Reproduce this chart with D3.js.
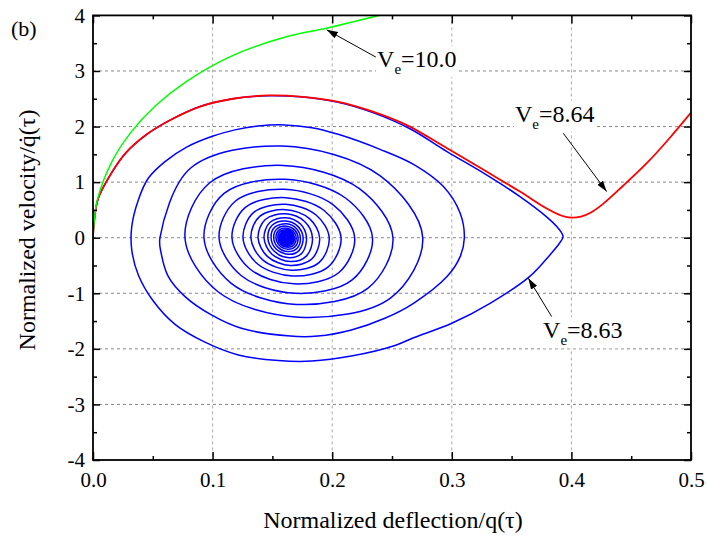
<!DOCTYPE html>
<html><head><meta charset="utf-8">
<script src="https://cdn.jsdelivr.net/npm/d3@7"></script>
<style>
body{margin:0;background:#fff}
svg{display:block}
text{font-family:"Liberation Serif","Times New Roman",Times,serif;fill:#000}
</style>
</head><body>
<svg id="chart" width="708" height="541" font-family="Liberation Serif, Times New Roman, serif"></svg>
<script>
// ---------------- data ----------------
const xTicks = [0, 0.1, 0.2, 0.3, 0.4, 0.5];
const xTickLabels = ["0.0", "0.1", "0.2", "0.3", "0.4", "0.5"];
const yTicks = [-4, -3, -2, -1, 0, 1, 2, 3, 4];
const yTickLabels = ["-4", "-3", "-2", "-1", "0", "1", "2", "3", "4"];
const xMinor = [0.05, 0.15, 0.25, 0.35, 0.45];
const yMinor = [-3.5, -2.5, -1.5, -0.5, 0.5, 1.5, 2.5, 3.5];
const xGrid = [0.1, 0.2, 0.3, 0.4];
const yGrid = [-3, -2, -1, 0, 1, 2, 3];

// V_e = 10.0 (green)
const greenCurve = [[0,0],[0.001,0.3],[0.0036,0.68],[0.0156,1.36],[0.0315,1.89],[0.052,2.37],
  [0.078,2.81],[0.118,3.29],[0.164,3.63],[0.195,3.77],[0.239,4.0]];

// V_e = 8.64 (red)
const redCurve = [[0,0],[0.001,0.3],[0.0044,0.71],[0.0156,1.17],[0.0276,1.53],[0.045,1.86],
  [0.064,2.11],[0.0895,2.36],[0.117,2.50],[0.147,2.56],[0.173,2.54],[0.204,2.45],[0.234,2.27],
  [0.262,2.03],[0.296,1.61],[0.329,1.19],[0.357,0.83],[0.379,0.53],[0.392,0.395],[0.400,0.36],
  [0.408,0.38],[0.416,0.45],[0.426,0.60],[0.443,0.93],[0.463,1.34],[0.482,1.79],[0.5,2.25]];

// V_e = 8.63 (blue): first turns, traced point by point
const blueOuter = [[0,0],[0.001,0.3],[0.0044,0.71],[0.0156,1.17],[0.0276,1.53],[0.045,1.86],
  [0.064,2.11],[0.0895,2.36],[0.117,2.50],[0.147,2.555],[0.173,2.535],[0.204,2.44],[0.234,2.25],
  [0.265,1.96],[0.296,1.55],[0.329,1.13],[0.357,0.74],[0.379,0.38],[0.389,0.17],[0.393,0.02],
  [0.390,-0.10],[0.382,-0.31],[0.365,-0.70],[0.332,-1.18],[0.300,-1.54],[0.268,-1.80],
  [0.2525,-1.94],[0.216,-2.13],[0.183,-2.22],[0.155,-2.21],[0.1215,-2.11],[0.0936,-1.88],
  [0.0686,-1.56],[0.0504,-1.14],[0.0379,-0.67],[0.0324,-0.22],[0.0324,0.20],[0.0379,0.68],
  [0.0462,1.07],[0.0602,1.37],[0.0783,1.63],[0.0992,1.82],[0.1187,1.94],[0.138,2.01],
  [0.160,2.03],[0.183,1.98],[0.205,1.86],[0.240,1.59],[0.268,1.32],[0.293,0.92],[0.307,0.44],
  [0.3105,0.0],[0.307,-0.34],[0.296,-0.70],[0.268,-1.18],[0.244,-1.45],[0.216,-1.66],
  [0.188,-1.77],[0.165,-1.77],[0.124,-1.63],[0.099,-1.39],[0.077,-1.06],[0.063,-0.70],
  [0.057,-0.28]];

// V_e = 8.63 (blue): remaining turns of the spiral, one entry per turn
// (left crossing, upper-left, top, upper-right, right crossing, lower-right, bottom, lower-left)
const spiralLeftX   = [0.0560,0.0769,0.0928,0.1054,0.1162,0.1254,0.1320,0.1380,0.1430,0.1462,0.1489,0.1511,
                       0.1530,0.1545,0.1558,0.1568,0.1577,0.1584,0.1590,0.1595,0.1600,0.1604,0.1608,0.1611];
const spiralULX     = [0.0817,0.0976,0.1096,0.1192,0.1274,0.1344,0.1394,0.1440,0.1478,0.1500,0.1520,0.1537,
                       0.1552,0.1563,0.1573,0.1580,0.1587,0.1593,0.1597,0.1601,0.1605,0.1608,0.1611,0.1614];
const spiralULY     = [1.254,0.988,0.798,0.661,0.547,0.456,0.384,0.327,0.274,0.228,0.190,0.157,
                       0.131,0.109,0.090,0.074,0.062,0.052,0.043,0.036,0.030,0.024,0.020,0.015];
const spiralTopX    = [0.158,0.159,0.160,0.160,0.161,0.161,0.161,0.161,0.161,0.161,0.162,0.162,
                       0.162,0.162,0.162,0.162,0.162,0.162,0.162,0.162,0.162,0.162,0.162,0.162];
const spiralTopY    = [1.65,1.30,1.05,0.87,0.72,0.60,0.505,0.43,0.36,0.30,0.25,0.207,
                       0.172,0.143,0.118,0.098,0.081,0.068,0.056,0.047,0.039,0.032,0.026,0.020];
const spiralURX     = [0.2396,0.2227,0.2111,0.2009,0.1932,0.1865,0.1810,0.1769,0.1735,0.1713,0.1698,0.1685,
                       0.1674,0.1664,0.1657,0.1651,0.1645,0.1641,0.1638,0.1634,0.1632,0.1630,0.1628,0.1626];
const spiralURY     = [1.122,0.884,0.714,0.592,0.490,0.408,0.343,0.292,0.245,0.204,0.170,0.141,
                       0.117,0.097,0.080,0.067,0.055,0.046,0.038,0.032,0.027,0.022,0.018,0.014];
const spiralRightX  = [0.2757,0.2508,0.2337,0.2188,0.2074,0.1975,0.1895,0.1835,0.1785,0.1757,0.1734,0.1715,
                       0.1699,0.1685,0.1674,0.1665,0.1657,0.1651,0.1646,0.1641,0.1637,0.1634,0.1631,0.1628];
const spiralLRX     = [0.2487,0.2297,0.2167,0.2054,0.1967,0.1892,0.1831,0.1786,0.1748,0.1724,0.1707,0.1692,
                       0.1680,0.1669,0.1661,0.1654,0.1648,0.1644,0.1640,0.1636,0.1634,0.1631,0.1629,0.1627];
const spiralLRY     = [-1.087,-0.912,-0.760,-0.631,-0.524,-0.445,-0.380,-0.327,-0.274,-0.228,-0.190,-0.157,
                       -0.131,-0.109,-0.090,-0.074,-0.062,-0.052,-0.043,-0.036,-0.030,-0.024,-0.020,-0.015];
const spiralBottomX = [0.172,0.170,0.169,0.168,0.167,0.166,0.165,0.165,0.164,0.164,0.163,0.163,
                       0.163,0.163,0.162,0.162,0.162,0.162,0.162,0.162,0.162,0.162,0.162,0.162];
const spiralBottomY = [-1.43,-1.20,-1.00,-0.83,-0.69,-0.585,-0.50,-0.43,-0.36,-0.30,-0.25,-0.207,
                       -0.172,-0.143,-0.118,-0.098,-0.081,-0.068,-0.056,-0.047,-0.039,-0.032,-0.026,-0.020];
const spiralLLX     = [0.1045,0.1153,0.1238,0.1312,0.1374,0.1419,0.1460,0.1494,0.1516,0.1531,0.1546,0.1559,
                       0.1569,0.1578,0.1585,0.1591,0.1596,0.1600,0.1603,0.1606,0.1609,0.1611,0.1613,0.1616];
const spiralLLY     = [-0.972,-0.816,-0.680,-0.564,-0.469,-0.398,-0.340,-0.292,-0.245,-0.204,-0.170,-0.141,
                       -0.117,-0.097,-0.080,-0.067,-0.055,-0.046,-0.038,-0.032,-0.027,-0.022,-0.018,-0.014];
const spiralFocus = [0.162, 0];

const annotationValues = ["10.0", "8.64", "8.63"];

// ---------------- chart ----------------
const FONT = '"Liberation Serif","Times New Roman",Times,serif';
const svg = d3.select("#chart");
const x = d3.scaleLinear().domain([0, 0.5]).range([93, 691]);
const y = d3.scaleLinear().domain([-4, 4]).range([460, 15.4]);
const [x0, x1] = x.range();
const [yb, yt] = y.range();

svg.append("rect").attr("width", 708).attr("height", 541).attr("fill", "#fff");

// grid
svg.append("g").selectAll("line").data(xGrid).join("line")
  .attr("x1", d => x(d)).attr("x2", d => x(d)).attr("y1", yt).attr("y2", yb)
  .attr("stroke", "#aaa").attr("stroke-width", 1).attr("stroke-dasharray", "3,3");
svg.append("g").selectAll("line").data(yGrid).join("line")
  .attr("x1", x0).attr("x2", x1).attr("y1", d => y(d)).attr("y2", d => y(d))
  .attr("stroke", "#888").attr("stroke-width", 1).attr("stroke-dasharray", "3,3");

// curves
const defs = svg.append("defs");
defs.append("clipPath").attr("id", "clip")
  .append("rect").attr("x", x0).attr("y", yt).attr("width", x1 - x0).attr("height", yb - yt);
const lineCR = d3.line().x(d => x(d[0])).y(d => y(d[1])).curve(d3.curveCatmullRom.alpha(0.5));
const plot = svg.append("g").attr("clip-path", "url(#clip)");

const bluePts = blueOuter.slice();
spiralLeftX.forEach((lx, i) => {
  bluePts.push([lx, 0]);
  bluePts.push([spiralULX[i], spiralULY[i]]);
  bluePts.push([spiralTopX[i], spiralTopY[i]]);
  bluePts.push([spiralURX[i], spiralURY[i]]);
  bluePts.push([spiralRightX[i], 0]);
  bluePts.push([spiralLRX[i], spiralLRY[i]]);
  bluePts.push([spiralBottomX[i], spiralBottomY[i]]);
  bluePts.push([spiralLLX[i], spiralLLY[i]]);
});
bluePts.push(spiralFocus);

function curve(pts, color, w) {
  plot.append("path").attr("d", lineCR(pts)).attr("fill", "none")
    .attr("stroke", color).attr("stroke-width", w).attr("stroke-linejoin", "round");
}
curve(bluePts, "#0000ff", 1.5);
curve(redCurve, "#ff0000", 1.8);
curve(greenCurve, "#00ff00", 1.5);

// axes
function styleAxis(g) {
  g.select(".domain").remove();
  g.selectAll("line").attr("stroke", "#000").attr("stroke-width", 1.5);
  g.attr("font-family", FONT).attr("font-size", 21);
  g.selectAll("text").attr("font-family", FONT).attr("font-size", 21).attr("fill", "#000");
}
svg.append("g").attr("transform", `translate(0,${yb})`)
  .call(d3.axisBottom(x).tickValues(xTicks).tickFormat((d, i) => xTickLabels[i])
    .tickSizeInner(-8).tickSizeOuter(0).tickPadding(12)).call(styleAxis);
svg.append("g").attr("transform", `translate(0,${yb})`)
  .call(d3.axisBottom(x).tickValues(xMinor).tickFormat("").tickSizeInner(-4).tickSizeOuter(0)).call(styleAxis);
svg.append("g").attr("transform", `translate(0,${yt})`)
  .call(d3.axisTop(x).tickValues(xTicks).tickFormat("").tickSizeInner(-8).tickSizeOuter(0)).call(styleAxis);
svg.append("g").attr("transform", `translate(0,${yt})`)
  .call(d3.axisTop(x).tickValues(xMinor).tickFormat("").tickSizeInner(-4).tickSizeOuter(0)).call(styleAxis);
svg.append("g").attr("transform", `translate(${x0},0)`)
  .call(d3.axisLeft(y).tickValues(yTicks).tickFormat((d, i) => yTickLabels[i])
    .tickSizeInner(-7).tickSizeOuter(0).tickPadding(8)).call(styleAxis);
svg.append("g").attr("transform", `translate(${x0},0)`)
  .call(d3.axisLeft(y).tickValues(yMinor).tickFormat("").tickSizeInner(-4).tickSizeOuter(0)).call(styleAxis);
svg.append("g").attr("transform", `translate(${x1},0)`)
  .call(d3.axisRight(y).tickValues(yTicks).tickFormat("").tickSizeInner(-7).tickSizeOuter(0)).call(styleAxis);
svg.append("g").attr("transform", `translate(${x1},0)`)
  .call(d3.axisRight(y).tickValues(yMinor).tickFormat("").tickSizeInner(-4).tickSizeOuter(0)).call(styleAxis);

// frame
svg.append("rect").attr("x", x0).attr("y", yt).attr("width", x1 - x0).attr("height", yb - yt)
  .attr("fill", "none").attr("stroke", "#000").attr("stroke-width", 1.8);

// titles
svg.append("text").attr("x", 11).attr("y", 36).attr("font-family", FONT).attr("font-size", 22).text("(b)");
svg.append("text").attr("x", 393).attr("y", 528).attr("font-family", FONT).attr("font-size", 24)
  .attr("text-anchor", "middle").text("Normalized deflection/q(\u03C4)");
svg.append("text").attr("transform", "translate(35,230) rotate(-90)").attr("font-family", FONT)
  .attr("font-size", 24).attr("text-anchor", "middle").text("Normalized velocity/q\u0307(\u03C4)");

// annotations
defs.append("marker").attr("id", "arrow")
  .attr("markerUnits", "userSpaceOnUse").attr("markerWidth", 12).attr("markerHeight", 8)
  .attr("refX", 11).attr("refY", 4).attr("orient", "auto")
  .append("path").attr("d", "M0,0.5 L11,4 L0,7.5 Z").attr("fill", "#000");

function veLabel(lx, ly, value, tail, tip) {
  const g = svg.append("g");
  const t = g.append("text").attr("x", x(lx)).attr("y", y(ly))
    .attr("font-family", FONT).attr("font-size", 24);
  t.append("tspan").text("V");
  t.append("tspan").attr("font-size", 15).attr("dy", 7).text("e");
  t.append("tspan").attr("dy", -7).text("=" + value);
  const bb = t.node().getBBox();
  g.insert("rect", "text").attr("x", bb.x - 1).attr("y", bb.y).attr("width", bb.width + 2)
    .attr("height", bb.height).attr("fill", "#fff");
  svg.append("line").attr("x1", x(tail[0])).attr("y1", y(tail[1]))
    .attr("x2", x(tip[0])).attr("y2", y(tip[1]))
    .attr("stroke", "#000").attr("stroke-width", 1).attr("marker-end", "url(#arrow)");
}
veLabel(0.2375, 3.07, annotationValues[0], [0.2365, 3.25], [0.1954, 3.74]);
veLabel(0.3528, 2.09, annotationValues[1], [0.3932, 1.88], [0.4295, 0.83]);
veLabel(0.3763, -1.81, annotationValues[2], [0.3835, -1.42], [0.364, -0.73]);
</script>
</body></html>
